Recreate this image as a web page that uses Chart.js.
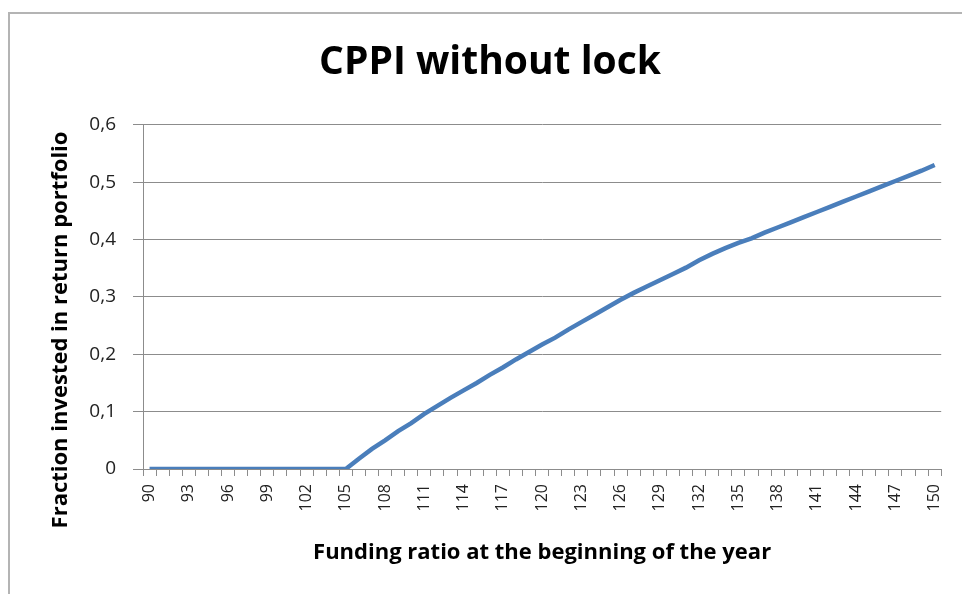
<!DOCTYPE html>
<html lang="en">
  <head>
    <meta charset="UTF-8" />
    <title>CPPI without lock</title>
    <script src="https://cdn.jsdelivr.net/npm/chart.js@4.4.1/dist/chart.umd.min.js"></script>
    <style>
      html, body { margin: 0; padding: 0; background: #fff; }
      #wrap { position: relative; width: 962px; height: 594px; overflow: hidden; }
      #frame {
        position: absolute; left: 8px; top: 12px; width: 980px; height: 600px;
        border: 2px solid #b4b4b4; box-sizing: border-box;
      }
      canvas { position: absolute; left: 0; top: 0; }
    </style>
  </head>
  <body>
    <div id="wrap">
      <div id="frame"></div>
      <canvas id="chart" width="962" height="594"></canvas>
    </div>

    <script>
      // funding ratio 90..150
      const fundingRatio = [
        90, 91, 92, 93, 94, 95, 96, 97, 98, 99, 100, 101, 102, 103, 104, 105,
        106, 107, 108, 109, 110, 111, 112, 113, 114, 115, 116, 117, 118, 119, 120,
        121, 122, 123, 124, 125, 126, 127, 128, 129, 130, 131, 132, 133, 134, 135,
        136, 137, 138, 139, 140, 141, 142, 143, 144, 145, 146, 147, 148, 149, 150
      ];
      const fractionInvested = [
        0, 0, 0, 0, 0, 0, 0, 0, 0, 0, 0, 0, 0, 0, 0, 0,
        0.018, 0.035, 0.050, 0.066, 0.080, 0.096, 0.110, 0.124, 0.137, 0.150,
        0.164, 0.177, 0.191, 0.204, 0.217, 0.229, 0.243, 0.256, 0.269, 0.282,
        0.295, 0.307, 0.318, 0.329, 0.340, 0.351, 0.364, 0.375, 0.385, 0.394,
        0.402, 0.412, 0.421, 0.430, 0.439, 0.448, 0.457, 0.466, 0.475, 0.484,
        0.493, 0.502, 0.511, 0.520, 0.530
      ];
      const yTicks = [0, 0.1, 0.2, 0.3, 0.4, 0.5, 0.6];

      const FONT = "'Open Sans', Lato, sans-serif";
      const gridGray = "#8c8c8c";

      // y axis title sits a bit below the plot centre in the original
      const yTitlePlugin = {
        id: "yTitle",
        afterDraw(chart) {
          const ctx = chart.ctx;
          ctx.save();
          ctx.translate(61, 330);
          ctx.rotate(-Math.PI / 2);
          ctx.font = "bold 22px " + FONT;
          ctx.fillStyle = "#000";
          ctx.textAlign = "center";
          ctx.textBaseline = "middle";
          ctx.fillText("Fraction invested in return portfolio", 0, 0);
          ctx.restore();
        }
      };

      new Chart(document.getElementById("chart"), {
        type: "line",
        data: {
          labels: fundingRatio,
          datasets: [
            {
              data: fractionInvested,
              borderColor: "#4a7ebb",
              borderWidth: 4.5,
              pointRadius: 0,
              tension: 0,
              fill: false
            }
          ]
        },
        plugins: [yTitlePlugin],
        options: {
          responsive: false,
          animation: false,
          layout: { padding: { left: 35, right: 17, top: 0, bottom: 0 } },
          plugins: {
            legend: { display: false },
            tooltip: { enabled: false },
            title: {
              display: true,
              text: "CPPI without lock",
              color: "#000",
              font: { family: FONT, size: 39, weight: "bold" },
              padding: { top: 39, bottom: 39 }
            }
          },
          scales: {
            x: {
              offset: true,
              grid: {
                offset: true,
                drawOnChartArea: false,
                drawTicks: true,
                tickLength: 7,
                color: gridGray
              },
              border: { display: true, color: gridGray, width: 1 },
              ticks: {
                autoSkip: false,
                maxRotation: 90,
                minRotation: 90,
                padding: 8,
                color: "#222",
                font: { family: FONT, size: 16 },
                callback: function (val, i) {
                  const v = fundingRatio[i];
                  return (v - 90) % 3 === 0 ? String(v) : "";
                }
              },
              title: {
                display: true,
                text: "Funding ratio at the beginning of the year",
                color: "#000",
                font: { family: FONT, size: 22, weight: "bold" },
                padding: { top: 0, bottom: 28 }
              },
              afterFit: function (scale) { scale.height = 125; }
            },
            y: {
              min: 0,
              max: 0.6,
              afterBuildTicks: function (scale) {
                scale.ticks = yTicks.map(function (v) { return { value: v }; });
              },
              grid: {
                color: gridGray,
                tickLength: 10,
                drawTicks: true
              },
              border: { display: true, color: gridGray, width: 1 },
              ticks: {
                padding: 17,
                color: "#222",
                font: { family: FONT, size: 19 },
                callback: function (v) {
                  return v === 0 ? "0" : v.toFixed(1).replace(".", ",");
                }
              },
              afterFit: function (scale) { scale.width = 108; }
            }
          }
        }
      });
    </script>
  </body>
</html>
